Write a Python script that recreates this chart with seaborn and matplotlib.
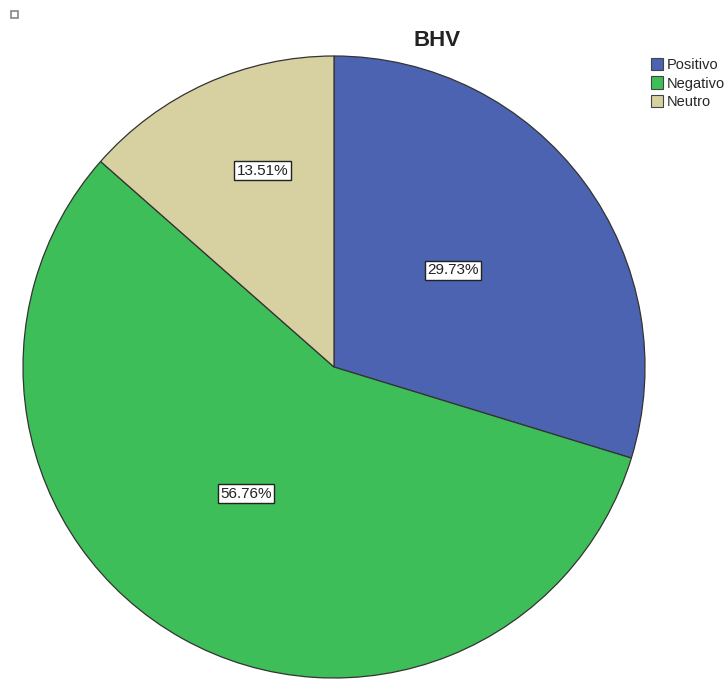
import matplotlib
matplotlib.use("Agg")
import matplotlib.pyplot as plt
import seaborn as sns
import numpy as np
from matplotlib.patches import Rectangle, Patch

categories = ["Positivo", "Negativo", "Neutro"]
values = [29.73, 56.76, 13.51]
colors = ["#4B63B1", "#3EBE59", "#D7D0A0"]
title = "BHV"

sns.set_theme(style="white")
plt.rcParams['font.family'] = ['Liberation Sans', 'DejaVu Sans']

fig = plt.figure(figsize=(7.26, 6.81), dpi=100)
cx, cy, r = 334, 367, 311
W, H = 726, 681
ax = fig.add_axes([(cx - r) / W, (H - cy - r) / H, 2 * r / W, 2 * r / H])

wedges, texts, autotexts = ax.pie(
    values, colors=colors, startangle=90, counterclock=False,
    autopct=lambda p: f"{p:.2f}%", pctdistance=0.5, radius=1,
    wedgeprops=dict(edgecolor="#333333", linewidth=0.9),
    textprops=dict(fontsize=11, color="#222222"))
for t in autotexts:
    t.set_bbox(dict(boxstyle="square,pad=0.15", facecolor="white", edgecolor="#222222", linewidth=1))
# small placement nudges to match the original label positions
nudges = [(-0.019, 0.013), (-0.039, 0.029), (0.048, 0.016)]
scales = [1.0, 1.0, 1.35]
for t, (dx, dy), s in zip(autotexts, nudges, scales):
    x, y = t.get_position()
    t.set_position((x * s + dx, y * s + dy))
ax.set_xlim(-1, 1)
ax.set_ylim(-1, 1)
ax.set_aspect("equal")
ax.axis("off")

fig.text(437 / W, 1 - 40 / H, title, ha="center", va="center", fontsize=16, fontweight="bold", color="#222222")

handles = [Patch(facecolor=c, edgecolor="#444444", linewidth=0.8) for c in colors]
fig.legend(handles, categories, loc="upper left", bbox_to_anchor=(651 / W, 1 - 58 / H),
           frameon=False, fontsize=10.5, handlelength=0.85, handleheight=0.9,
           handletextpad=0.25, labelspacing=0.3, borderpad=0, borderaxespad=0)

fig.patches.append(Rectangle((11 / W, 1 - 18 / H), 7 / W, 7 / H, transform=fig.transFigure,
                             facecolor="white", edgecolor="#888888", linewidth=1.2))

fig.savefig("out.png", dpi=100)
